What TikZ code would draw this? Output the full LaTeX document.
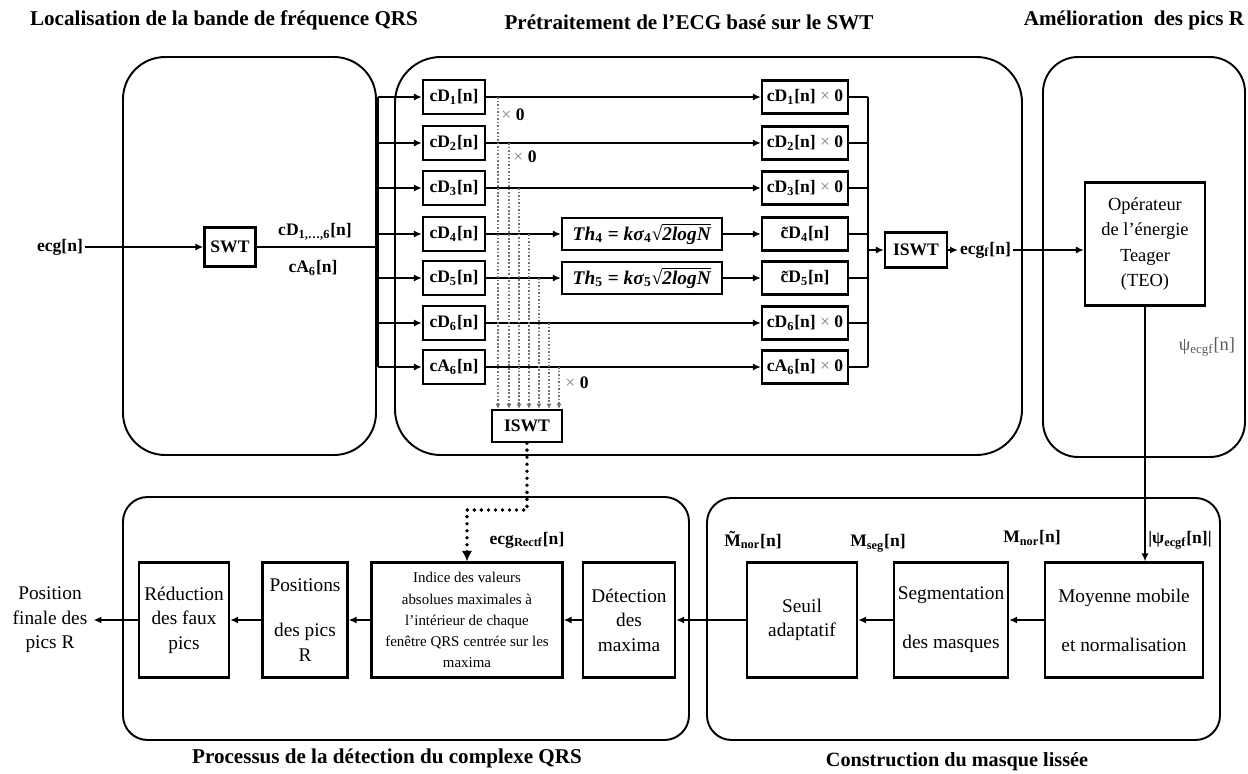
\documentclass[tikz,border=0pt]{standalone}
\usepackage{fontspec}
\setmainfont{Liberation Serif}
\usetikzlibrary{arrows.meta}

\newcommand{\thr}[1]{\textbf{\textit{Th}\textsubscript{#1} = \textit{kσ}\textsubscript{#1}}√\vbox{\hrule height 0.6pt\kern1pt\hbox{\textbf{\textit{2logN}}}}}

\tikzset{
  stage/.style={draw, line width=1.1pt, rounded corners=#1},
  stage/.default=24pt,
  blk/.style={draw, line width=1.3pt, inner sep=1pt, align=center},
  cbox/.style={blk, minimum width=1.24cm, minimum height=0.68cm, font=\fontsize{10}{12}\selectfont\bfseries},
  obox/.style={blk, minimum width=1.72cm, minimum height=0.66cm, font=\fontsize{10}{12}\selectfont\bfseries},
  thbox/.style={blk, minimum width=3.2cm, minimum height=0.64cm, font=\fontsize{11}{13}\selectfont},
  proc/.style={blk, minimum height=2.3cm, font=\fontsize{11}{14}\selectfont},
  wire/.style={line width=1.3pt},
  arr/.style={wire, -{Latex[length=4.5pt,width=4pt]}},
  dots/.style={line width=0.6pt, black!55, dash pattern=on 1pt off 1pt, -{Latex[length=3pt,width=3pt]}},
  fatdots/.style={line width=2.2pt, dash pattern=on 0pt off 4pt, line cap=round, -{Latex[length=6pt,width=6pt]}},
  title/.style={font=\fontsize{12}{14}\selectfont\bfseries},
  lbl/.style={font=\fontsize{10}{12}\selectfont\bfseries, inner sep=1pt},
}

\begin{document}
\begin{tikzpicture}[x=0.02cm, y=-0.02cm]
\useasboundingbox (0,0) rectangle (1248,774);
% the five stages
\draw[stage] (123,57) rectangle (376,455);
\draw[stage=26pt] (395,57) rectangle (1022,455);
\draw[stage=20pt] (1043,57) rectangle (1245,457);
\draw[stage=14pt] (123,497) rectangle (689,740);
\draw[stage=14pt] (707,498) rectangle (1220,740);
\node[title] (tloc) at (224,20) {Localisation de la bande de fréquence QRS};
\node[title] (tpre) at (689,22) {Prétraitement de l'ECG basé sur le SWT};
\node[title] (tame) at (1134,20) {Amélioration\ \ des pics R};
\node[title] (tpro) at (387,758) {Processus de la détection du complexe QRS};
\node[title, font=\fontsize{11.5}{14}\selectfont\bfseries] (tcon) at (957,762) {Construction du masque lissée};

% decomposition
\coordinate (busL) at (378,0);
\coordinate (busR) at (868,0);
\node[lbl] (ecgin) at (60,247) {ecg[n]};
\node[blk, font=\bfseries, minimum width=1.02cm, minimum height=0.78cm] (swt) at (230,247) {SWT};
\draw[arr] (ecgin) -- (swt);
\draw[wire] (swt.east) -- (swt.east -| busL);
\node[lbl] (lcd) at (315,232) {cD\textsubscript{1,…,6}[n]};
\node[lbl] (lca) at (313,268) {cA\textsubscript{6}[n]};

\foreach \i/\y/\k/\s in {1/97/D/1,2/143/D/2,3/188/D/3,4/234/D/4,5/278/D/5,6/323/D/6,7/367/A/6}{
  \node[cbox] (cd\i) at (454,\y) {c\k\textsubscript{\s}[n]};
  \draw[arr] (cd\i.west -| busL) -- (cd\i.west);
}
\draw[wire] (cd1.west -| busL) -- (cd7.west -| busL);

\foreach \i/\y/\k/\s in {1/97/D/1,2/143/D/2,3/188/D/3,6/323/D/6,7/367/A/6}{
  \node[obox] (out\i) at (805,\y) {c\k\textsubscript{\s}[n] {\mdseries\color{black!50}×} 0};
  \draw[arr] (cd\i) -- (out\i);
}
% thresholds
\node[thbox] (th4) at (642,234) {\thr{4}};
\node[thbox] (th5) at (642,278) {\thr{5}};
\node[obox] (out4) at (805,234) {\~{c}D\textsubscript{4}[n]};
\node[obox] (out5) at (805,278) {\~{c}D\textsubscript{5}[n]};
\draw[arr] (cd4) -- (th4);
\draw[arr] (th4) -- (out4);
\draw[arr] (cd5) -- (th5);
\draw[arr] (th5) -- (out5);
\foreach \i in {1,...,7}
  \draw[wire] (out\i.east) -- (out\i.east -| busR);
\draw[wire] (out1.east -| busR) -- (out7.east -| busR);

\node[blk, font=\bfseries, minimum width=1.24cm, minimum height=0.7cm] (iswt) at (916,250) {ISWT};
\draw[arr] (iswt.west -| busR) -- (iswt.west);
\node[lbl, anchor=west] (ecgf) at (958,250) {ecg\textsubscript{f}[n]};
\draw[arr] (iswt.east) -- (ecgf.west);

% zeroed branches
\node[blk, font=\bfseries, minimum width=1.4cm, minimum height=0.64cm] (iswtb) at (527,426) {ISWT};
\foreach \i/\x in {1/498,2/509,3/519,4/529,5/539,6/549,7/559}
  \draw[dots] (cd\i.east -| \x,0) -- (iswtb.north -| \x,0);
\node[lbl] (z1) at (513,115) {{\mdseries\color{black!50}×} 0};
\node[lbl] (z2) at (525,157) {{\mdseries\color{black!50}×} 0};
\node[lbl] (z7) at (577,383) {{\mdseries\color{black!50}×} 0};

% TEO
\node[blk, minimum width=2.4cm, minimum height=2.46cm, font=\fontsize{10.5}{14.5}\selectfont] (teo) at (1145,244) {Opérateur\\de l'énergie\\Teager\\(TEO)};
\draw[arr] (ecgf.east) -- (ecgf.east -| teo.west);
\node[font=\fontsize{10.5}{12}\selectfont, text=black!65] (psi) at (1207,347) {ψ\textsubscript{ecgf}[n]};

% smoothed mask and detection
\node[proc, minimum width=3.16cm] (moy) at (1124,620) {Moyenne mobile\\[14pt]et normalisation};
\node[proc, minimum width=2.28cm] (seg) at (951,620) {Segmentation\\[14pt]des masques};
\node[proc, minimum width=2.2cm] (seuil) at (802,620) {Seuil\\adaptatif};
\node[proc, minimum width=1.84cm] (det) at (629,620) {Détection\\des\\maxima};
\node[proc, minimum width=3.82cm, font=\fontsize{8.5}{12}\selectfont] (ind) at (467,620) {Indice des valeurs\\absolues maximales à\\l'intérieur de chaque\\fenêtre QRS centrée sur les\\maxima};
\node[proc, minimum width=1.7cm] (pos) at (305,620) {Positions\\[12pt]des pics\\R};
\node[proc, minimum width=1.8cm] (red) at (184,620) {Réduction\\des faux\\pics};
\node[font=\fontsize{11}{14}\selectfont, align=center] (fin) at (50,620) {Position\\finale des\\pics R};
\draw[arr] (teo.south) -- (teo.south |- moy.north);
\foreach \a/\b in {moy/seg,seg/seuil,seuil/det,det/ind,ind/pos,pos/red,red/fin}
  \draw[arr] (\a) -- (\b);
\draw[fatdots] (iswtb.south) -- (iswtb.south |- 0,510) -| (ind.north);

\node[lbl] (lpsi) at (1180,540) {|ψ\textsubscript{ecgf}[n]|};
\node[lbl] (lmnor) at (1032,538) {M\textsubscript{nor}[n]};
\node[lbl] (lmseg) at (878,543) {M\textsubscript{seg}[n]};
\node[lbl] (lmtil) at (753,540) {\~{M}\textsubscript{nor}[n]};
\node[lbl] (lrect) at (527,540) {ecg\textsubscript{Rectf}[n]};
\end{tikzpicture}
\end{document}
